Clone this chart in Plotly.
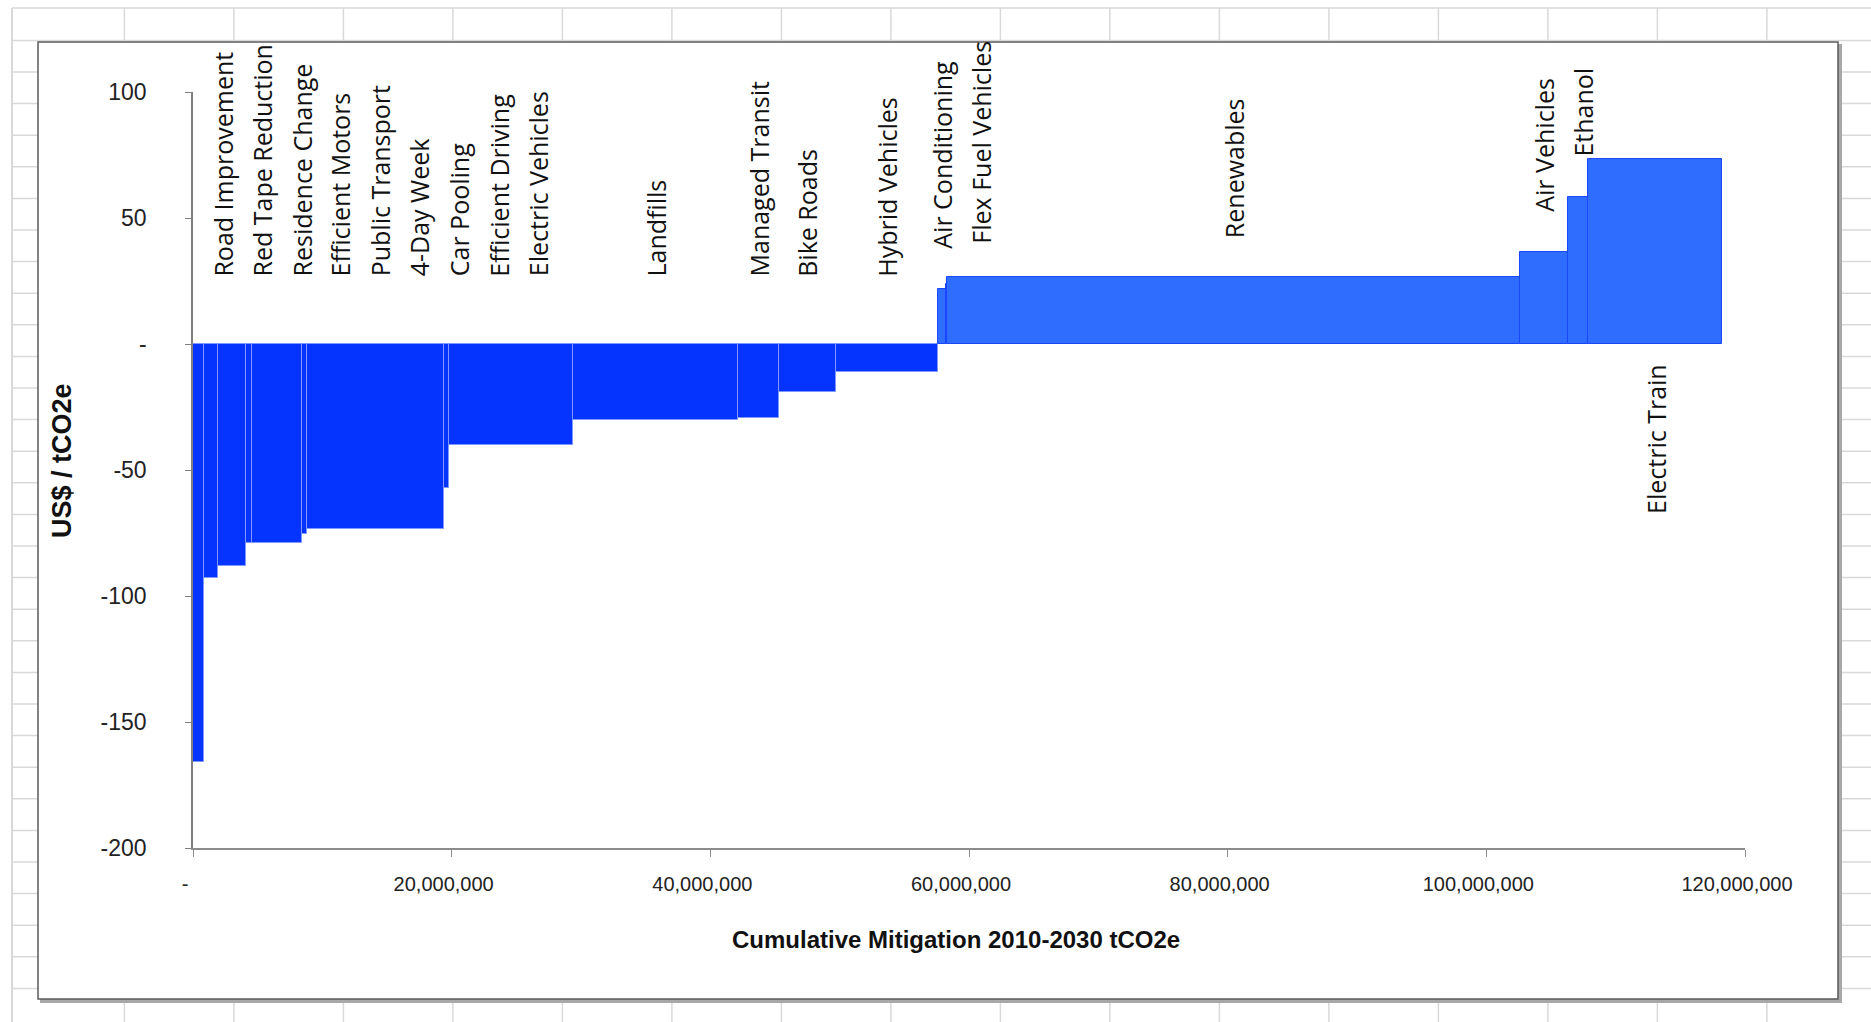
import numpy as np
import plotly.graph_objects as go

# ---------------- data ----------------
measures = ["Road Improvement", "Red Tape Reduction", "Residence Change", "Efficient Motors",
            "Public Transport", "4-Day Week", "Car Pooling", "Efficient Driving", "Electric Vehicles",
            "Landfills", "Managed Transit", "Bike Roads", "Hybrid Vehicles", "Air Conditioning",
            "Flex Fuel Vehicles", "Renewables", "Air Vehicles", "Ethanol", "Electric Train"]
# mitigation potential (tCO2e, cumulative 2010-2030) -> bar widths
mitigation = [0.87e6, 1.08e6, 2.16e6, 0.49e6, 3.84e6, 0.41e6, 10.56e6, 0.39e6, 9.58e6,
              12.77e6, 3.15e6, 4.40e6, 7.88e6, 0.66e6, 0.08e6, 44.26e6, 3.73e6, 1.58e6, 10.35e6]
# abatement cost (US$ / tCO2e) -> bar heights
cost = [-166, -93, -88, -79, -79, -75.5, -73.5, -57, -40,
        -30, -29.5, -19.2, -11.3, 22, 24, 26.4, 36.6, 58.5, 73.3]

y_tickvals = [-200, -150, -100, -50, 0, 50, 100]
y_ticktext = ["-200", "-150", "-100", "-50", "-", "50", "100"]
x_tickvals = [0, 20e6, 40e6, 60e6, 80e6, 100e6, 120e6]
x_ticktext = ["-", "20,000,000", "40,000,000", "60,000,000", "80,000,000", "100,000,000", "120,000,000"]

# ---------------- geometry ----------------
W, H = 1871, 1022
L, R, T, B = 193, 1745, 92, 848

def px(p):
    return (p - L) / (R - L)

def py(p):
    return (B - p) / (B - T)

widths = np.array(mitigation)
vals = np.array(cost)
starts = np.concatenate([[0], np.cumsum(widths)[:-1]])
centers = starts + widths / 2

neg_color = "#0533FF"
pos_color = "#2F6DFE"
colors = [neg_color if v < 0 else pos_color for v in vals]
line_colors = ["#7E98FF" if v < 0 else "#1B48FF" for v in vals]

fig = go.Figure()
fig.add_trace(go.Bar(
    x=centers, y=vals, width=widths, base=0,
    marker=dict(color=colors, line=dict(color=line_colors, width=1)),
    hoverinfo="skip", showlegend=False,
))

# ---------------- measure labels ----------------
gap = 3.05e6
label_x = []
for i, c in enumerate(centers):
    if i == 0:
        label_x.append(max(c, 0.75 * gap))
    else:
        label_x.append(max(c, label_x[-1] + gap))

label_font = dict(family="Open Sans, Noto Sans, sans-serif", size=25, color="#111111")
annotations = []
for name, lx, v in zip(measures, label_x, vals):
    if v > 65:
        annotations.append(dict(x=lx, y=-7, xref="x", yref="y", text=name, textangle=-90,
                                showarrow=False, xanchor="center", yanchor="top", font=label_font))
    else:
        base = max(v + 15, 26)
        annotations.append(dict(x=lx, y=base, xref="x", yref="y", text=name, textangle=-90,
                                showarrow=False, xanchor="center", yanchor="bottom", font=label_font))

# axis titles
annotations.append(dict(x=px(956), y=py(939), xref="paper", yref="paper",
                        text="<b>Cumulative Mitigation 2010-2030 tCO2e</b>", showarrow=False,
                        xanchor="center", yanchor="middle",
                        font=dict(family="Liberation Sans, Arial, sans-serif", size=24, color="#111111")))
annotations.append(dict(x=px(62), y=py(461), xref="paper", yref="paper",
                        text="<b>US$ / tCO2e</b>", showarrow=False, textangle=-90,
                        xanchor="center", yanchor="middle",
                        font=dict(family="Liberation Sans, Arial, sans-serif", size=27, color="#111111")))

# ---------------- spreadsheet background & chart frame ----------------
shapes = []
grid_col = "#D9D9D9"
# horizontal row lines
shapes.append(dict(type="line", xref="paper", yref="paper", x0=px(12), x1=px(W), y0=py(8), y1=py(8),
                   line=dict(color=grid_col, width=1.5), layer="below"))
for k in range(31):
    yy = 40.4 + 31.6 * k
    shapes.append(dict(type="line", xref="paper", yref="paper", x0=px(12), x1=px(W), y0=py(yy), y1=py(yy),
                       line=dict(color=grid_col, width=1.5), layer="below"))
# vertical column lines
shapes.append(dict(type="line", xref="paper", yref="paper", x0=px(12), x1=px(12), y0=py(8), y1=py(H),
                   line=dict(color=grid_col, width=2), layer="below"))
for k in range(-1, 15):
    xx = 233.9 + 109.5 * k
    shapes.append(dict(type="line", xref="paper", yref="paper", x0=px(xx), x1=px(xx), y0=py(8), y1=py(H),
                       line=dict(color=grid_col, width=1.5), layer="below"))
# chart frame shadow + frame
shapes.append(dict(type="rect", xref="paper", yref="paper", x0=px(41), x1=px(1841), y0=py(45), y1=py(1002),
                   line=dict(color="#A8A8A8", width=2), fillcolor="#A8A8A8", layer="below"))
shapes.append(dict(type="rect", xref="paper", yref="paper", x0=px(38), x1=px(1838), y0=py(42), y1=py(999),
                   line=dict(color="#5A5A5A", width=1.5), fillcolor="white", layer="below"))

fig.update_layout(
    width=W, height=H,
    margin=dict(l=L, r=W - R, t=T, b=H - B, autoexpand=False),
    paper_bgcolor="white", plot_bgcolor="rgba(0,0,0,0)",
    bargap=0, showlegend=False,
    shapes=shapes, annotations=annotations,
    xaxis=dict(range=[0, 120e6], tickvals=x_tickvals, ticktext=x_ticktext,
               showgrid=False, zeroline=False, showline=True, linecolor="#8C8C8C", linewidth=2,
               ticks="outside", ticklen=7, tickcolor="#8C8C8C", tickwidth=1,
               ticklabelstandoff=10, ticklabelshift=-8,
               tickfont=dict(family="Liberation Sans, Arial, sans-serif", size=20, color="#222222")),
    yaxis=dict(range=[-200, 100], tickvals=y_tickvals, ticktext=y_ticktext,
               showgrid=False, zeroline=False, showline=True, linecolor="#7F7F7F", linewidth=1.5,
               ticks="outside", ticklen=6, tickcolor="#7F7F7F", tickwidth=1,
               ticklabelstandoff=34,
               tickfont=dict(family="Liberation Sans, Arial, sans-serif", size=23, color="#222222")),
)

fig.write_html("out.html")
